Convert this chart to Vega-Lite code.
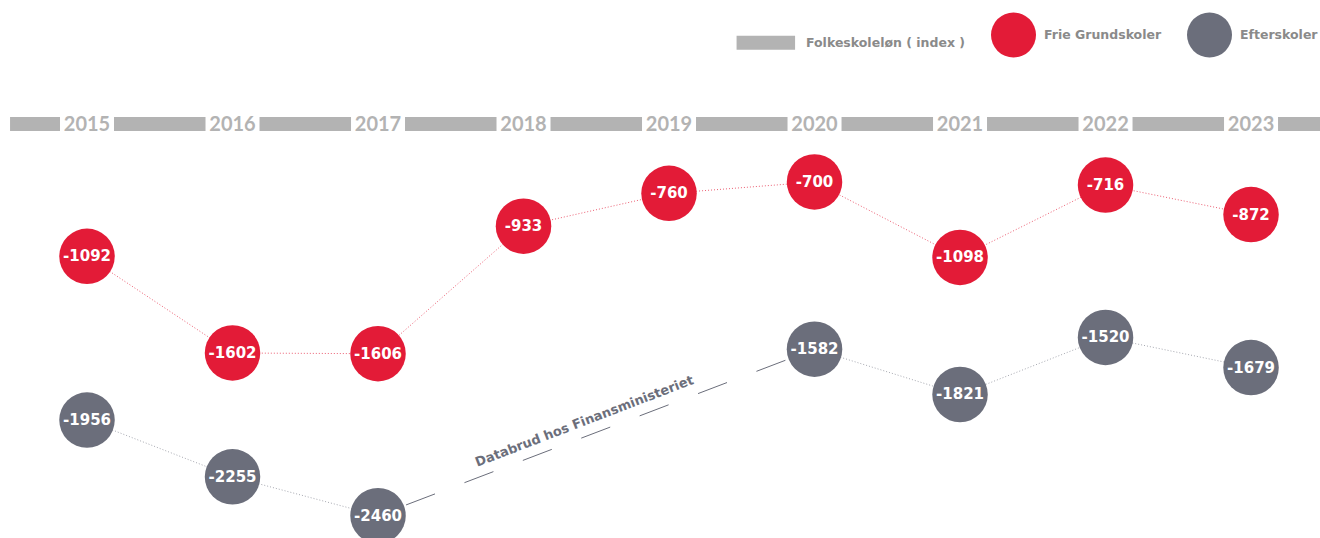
{
  "$schema": "https://vega.github.io/schema/vega-lite/v6.json",
  "width": 1320,
  "height": 538,
  "padding": 0,
  "autosize": {"type": "none"},
  "background": "white",
  "config": {"view": {"stroke": null}},
  "datasets": {
    "points": [
      {"year": 2015, "series": "Frie Grundskoler", "seg": "r", "value": -1092},
      {"year": 2016, "series": "Frie Grundskoler", "seg": "r", "value": -1602},
      {"year": 2017, "series": "Frie Grundskoler", "seg": "r", "value": -1606},
      {"year": 2018, "series": "Frie Grundskoler", "seg": "r", "value": -933},
      {"year": 2019, "series": "Frie Grundskoler", "seg": "r", "value": -760},
      {"year": 2020, "series": "Frie Grundskoler", "seg": "r", "value": -700},
      {"year": 2021, "series": "Frie Grundskoler", "seg": "r", "value": -1098},
      {"year": 2022, "series": "Frie Grundskoler", "seg": "r", "value": -716},
      {"year": 2023, "series": "Frie Grundskoler", "seg": "r", "value": -872},
      {"year": 2015, "series": "Efterskoler", "seg": "g1", "value": -1956},
      {"year": 2016, "series": "Efterskoler", "seg": "g1", "value": -2255},
      {"year": 2017, "series": "Efterskoler", "seg": "g1", "value": -2460},
      {"year": 2020, "series": "Efterskoler", "seg": "g2", "value": -1582},
      {"year": 2021, "series": "Efterskoler", "seg": "g2", "value": -1821},
      {"year": 2022, "series": "Efterskoler", "seg": "g2", "value": -1520},
      {"year": 2023, "series": "Efterskoler", "seg": "g2", "value": -1679}
    ],
    "years": [
      {"year": 2015}, {"year": 2016}, {"year": 2017}, {"year": 2018}, {"year": 2019},
      {"year": 2020}, {"year": 2021}, {"year": 2022}, {"year": 2023}
    ],
    "gap": [
      {"year": 2017, "value": -2460},
      {"year": 2020, "value": -1582}
    ],
    "note": [
      {"year": 2018.419, "value": -1963, "label": "Databrud hos Finansministeriet"}
    ]
  },
  "layer": [
    {
      "data": {"values": [{}]},
      "mark": {"type": "rule", "color": "#b3b3b3", "strokeWidth": 14},
      "encoding": {
        "x": {"datum": 2014.471, "type": "quantitative", "scale": {"domain": [2014.402, 2023.474], "nice": false, "zero": false}, "axis": null},
        "x2": {"datum": 2023.474},
        "y": {"datum": -394, "type": "quantitative", "scale": {"domain": [-2578, 260], "nice": false, "zero": false}, "axis": null}
      }
    },
    {
      "data": {"name": "years"},
      "mark": {"type": "tick", "orient": "horizontal", "color": "white", "size": 54, "thickness": 22, "opacity": 1},
      "encoding": {
        "x": {"field": "year", "type": "quantitative", "scale": {"domain": [2014.402, 2023.474], "nice": false, "zero": false}, "axis": null},
        "y": {"datum": -394, "type": "quantitative", "scale": {"domain": [-2578, 260], "nice": false, "zero": false}, "axis": null}
      }
    },
    {
      "data": {"name": "years"},
      "mark": {"type": "text", "font": "Lato", "fontWeight": "bold", "fontSize": 20, "color": "#b3b3b3", "align": "center", "baseline": "middle"},
      "encoding": {
        "x": {"field": "year", "type": "quantitative", "scale": {"domain": [2014.402, 2023.474], "nice": false, "zero": false}, "axis": null},
        "y": {"datum": -399, "type": "quantitative", "scale": {"domain": [-2578, 260], "nice": false, "zero": false}, "axis": null},
        "text": {"field": "year", "type": "nominal"}
      }
    },
    {
      "data": {"name": "points"},
      "transform": [{"filter": "datum.seg == 'r'"}],
      "mark": {"type": "line", "color": "#e31b37", "strokeWidth": 1, "strokeDash": [1, 2], "opacity": 0.7},
      "encoding": {
        "x": {"field": "year", "type": "quantitative", "scale": {"domain": [2014.402, 2023.474], "nice": false, "zero": false}, "axis": null},
        "y": {"field": "value", "type": "quantitative", "scale": {"domain": [-2578, 260], "nice": false, "zero": false}, "axis": null}
      }
    },
    {
      "data": {"name": "points"},
      "transform": [{"filter": "datum.seg != 'r'"}],
      "mark": {"type": "line", "color": "#6b6e7b", "strokeWidth": 1, "strokeDash": [1, 2], "opacity": 0.6},
      "encoding": {
        "x": {"field": "year", "type": "quantitative", "scale": {"domain": [2014.402, 2023.474], "nice": false, "zero": false}, "axis": null},
        "y": {"field": "value", "type": "quantitative", "scale": {"domain": [-2578, 260], "nice": false, "zero": false}, "axis": null},
        "detail": {"field": "seg", "type": "nominal"}
      }
    },
    {
      "data": {"name": "gap"},
      "mark": {"type": "line", "color": "#6b6e7b", "strokeWidth": 1, "strokeDash": [31, 31.5], "strokeDashOffset": 32.5},
      "encoding": {
        "x": {"field": "year", "type": "quantitative", "scale": {"domain": [2014.402, 2023.474], "nice": false, "zero": false}, "axis": null},
        "y": {"field": "value", "type": "quantitative", "scale": {"domain": [-2578, 260], "nice": false, "zero": false}, "axis": null}
      }
    },
    {
      "data": {"name": "note"},
      "mark": {"type": "text", "font": "DejaVu Sans", "fontWeight": "bold", "fontSize": 13, "color": "#6b6e7b", "angle": 339, "align": "center", "baseline": "middle"},
      "encoding": {
        "x": {"field": "year", "type": "quantitative", "scale": {"domain": [2014.402, 2023.474], "nice": false, "zero": false}, "axis": null},
        "y": {"field": "value", "type": "quantitative", "scale": {"domain": [-2578, 260], "nice": false, "zero": false}, "axis": null},
        "text": {"field": "label", "type": "nominal"}
      }
    },
    {
      "data": {"name": "points"},
      "mark": {"type": "point", "filled": true, "opacity": 1, "size": 3080, "strokeWidth": 0},
      "encoding": {
        "x": {"field": "year", "type": "quantitative", "scale": {"domain": [2014.402, 2023.474], "nice": false, "zero": false}, "axis": null},
        "y": {"field": "value", "type": "quantitative", "scale": {"domain": [-2578, 260], "nice": false, "zero": false}, "axis": null},
        "color": {
          "field": "series", "type": "nominal",
          "scale": {"domain": ["Folkeskoleløn ( index )", "Frie Grundskoler", "Efterskoler"], "range": ["#b3b3b3", "#e31b37", "#6b6e7b"]},
          "legend": {"title": null, "orient": "none", "legendX": 753, "legendY": 12.5, "direction": "horizontal", "columns": 3, "symbolSize": 2025, "symbolStrokeWidth": 0, "symbolOpacity": 1, "labelFont": "DejaVu Sans", "labelFontWeight": "bold", "labelFontSize": 12.5, "labelColor": "#8a8a8a", "labelOffset": 8, "columnPadding": 25, "padding": 0, "labelLimit": 300}
        },
        "shape": {
          "field": "series", "type": "nominal",
          "scale": {"domain": ["Folkeskoleløn ( index )", "Frie Grundskoler", "Efterskoler"], "range": ["M-1.73,-0.31H0.87V0.31H-1.73Z", "circle", "circle"]},
          "legend": {"title": null, "orient": "none", "legendX": 753, "legendY": 12.5, "direction": "horizontal", "columns": 3, "symbolSize": 2025, "symbolStrokeWidth": 0, "symbolOpacity": 1, "labelFont": "DejaVu Sans", "labelFontWeight": "bold", "labelFontSize": 12.5, "labelColor": "#8a8a8a", "labelOffset": 8, "columnPadding": 25, "padding": 0, "labelLimit": 300}
        }
      }
    },
    {
      "data": {"name": "points"},
      "mark": {"type": "text", "font": "DejaVu Sans", "fontWeight": "bold", "fontSize": 15, "color": "white", "align": "center", "baseline": "middle"},
      "encoding": {
        "x": {"field": "year", "type": "quantitative", "scale": {"domain": [2014.402, 2023.474], "nice": false, "zero": false}, "axis": null},
        "y": {"field": "value", "type": "quantitative", "scale": {"domain": [-2578, 260], "nice": false, "zero": false}, "axis": null},
        "text": {"field": "value", "type": "nominal"}
      }
    }
  ]
}
